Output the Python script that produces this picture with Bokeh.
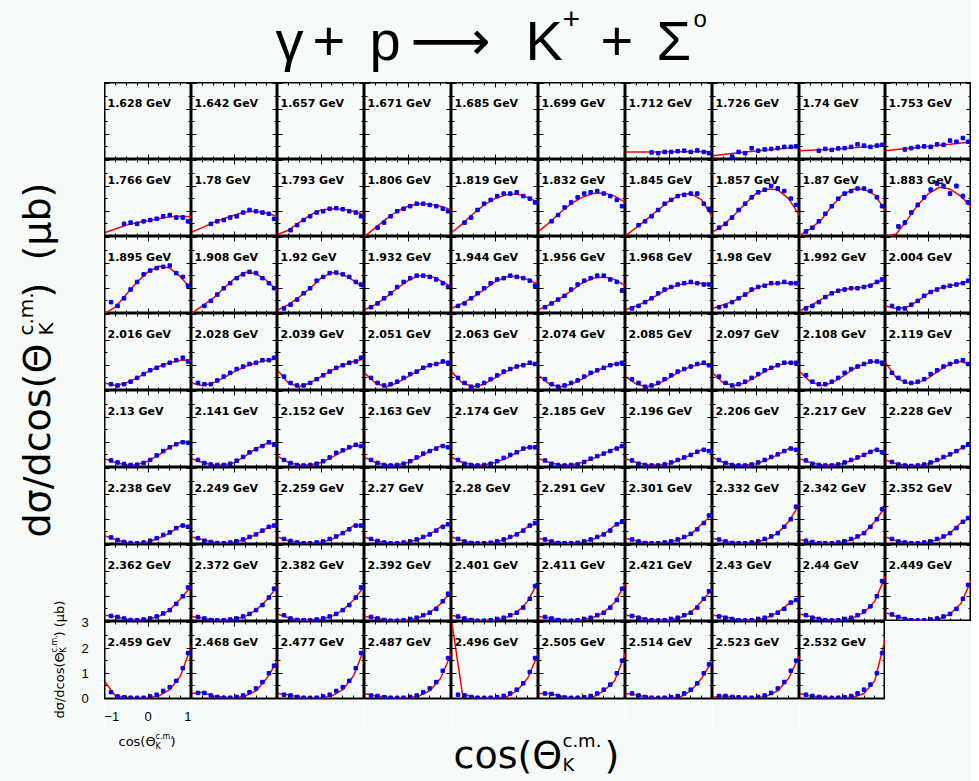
import math
from bokeh.plotting import figure
from bokeh.layouts import gridplot, column, row
from bokeh.models import LinearAxis, FixedTicker, Range1d, ColumnDataSource
from bokeh.core.properties import value
from bokeh.embed import file_html
from bokeh.resources import INLINE

# ---------------- data ----------------
ENERGY_R1 = ["1.628", "1.642", "1.657", "1.671", "1.685", "1.699", "1.712", "1.726", "1.74", "1.753"]
ENERGY_R2 = ["1.766", "1.78", "1.793", "1.806", "1.819", "1.832", "1.845", "1.857", "1.87", "1.883"]
ENERGY_R3 = ["1.895", "1.908", "1.92", "1.932", "1.944", "1.956", "1.968", "1.98", "1.992", "2.004"]
ENERGY_R4 = ["2.016", "2.028", "2.039", "2.051", "2.063", "2.074", "2.085", "2.097", "2.108", "2.119"]
ENERGY_R5 = ["2.13", "2.141", "2.152", "2.163", "2.174", "2.185", "2.196", "2.206", "2.217", "2.228"]
ENERGY_R6 = ["2.238", "2.249", "2.259", "2.27", "2.28", "2.291", "2.301", "2.332", "2.342", "2.352"]
ENERGY_R7 = ["2.362", "2.372", "2.382", "2.392", "2.401", "2.411", "2.421", "2.43", "2.44", "2.449"]
ENERGY_R8 = ["2.459", "2.468", "2.477", "2.487", "2.496", "2.505", "2.514", "2.523", "2.532"]

# fit curve sampled at these cos(theta) values
X_CURVE = [-1.0, -0.75, -0.5, -0.25, 0.0, 0.25, 0.5, 0.75, 1.0]
# measured points at these cos(theta) values
X_DATA = [-0.85, -0.7, -0.55, -0.4, -0.25, -0.1, 0.05, 0.2, 0.35, 0.5, 0.65, 0.8, 0.92]

N = None
CURVE_R1 = [N, N, N, N, N, N,
            [0.30, 0.30, 0.30, 0.30, 0.31, 0.31, 0.31, 0.31, 0.31],
            [0.15, 0.20, 0.25, 0.30, 0.34, 0.38, 0.42, 0.46, 0.50],
            [0.35, 0.37, 0.39, 0.41, 0.44, 0.47, 0.50, 0.53, 0.56],
            [0.35, 0.40, 0.44, 0.48, 0.52, 0.56, 0.60, 0.65, 0.70]]
DATA_R1 = [N, N, N, N, N, N,
           [N, N, N, 0.28, 0.25, 0.30, 0.30, 0.33, 0.35, 0.30, 0.36, 0.30, 0.25],
           [N, N, 0.12, 0.30, 0.25, 0.45, 0.35, 0.40, 0.42, 0.45, 0.50, 0.50, 0.52],
           [N, N, 0.35, 0.42, 0.38, 0.44, 0.45, 0.50, 0.60, 0.55, 0.50, 0.55, 0.58],
           [N, N, 0.40, 0.45, 0.50, 0.52, 0.50, 0.60, 0.58, 0.75, 0.70, 0.85, 0.70]]
ERR_R1 = [0, 0, 0, 0, 0, 0, 0.05, 0.08, 0.06, 0.08]

CURVE_R2 = [[0.15, 0.30, 0.45, 0.55, 0.62, 0.70, 0.78, 0.80, 0.78],
            [0.17, 0.35, 0.55, 0.70, 0.85, 0.97, 1.00, 0.92, 0.80],
            [0.08, 0.25, 0.55, 0.85, 1.05, 1.10, 1.08, 1.00, 0.85],
            [0.00, 0.35, 0.70, 1.00, 1.20, 1.30, 1.28, 1.20, 1.05],
            [0.15, 0.50, 0.90, 1.25, 1.50, 1.65, 1.68, 1.55, 1.35],
            [0.20, 0.55, 0.95, 1.30, 1.55, 1.70, 1.72, 1.60, 1.35],
            [0.04, 0.35, 0.70, 1.05, 1.40, 1.65, 1.70, 1.45, 0.77],
            [0.17, 0.45, 0.85, 1.30, 1.70, 1.88, 1.85, 1.50, 0.83],
            [0.04, 0.30, 0.65, 1.20, 1.65, 1.87, 1.88, 1.65, 1.03],
            [0.00, 0.10, 0.65, 1.25, 1.70, 1.95, 1.88, 1.60, 1.16]]
DATA_R2 = [[N, N, 0.50, 0.55, 0.50, 0.60, 0.65, 0.70, 0.80, 0.85, 0.75, 0.75, 0.60],
           [N, N, 0.50, 0.60, 0.65, 0.75, 0.80, 0.95, 1.05, 1.00, 0.95, 0.90, 0.70],
           [N, 0.25, 0.45, 0.65, 0.80, 0.95, 1.00, 1.10, 1.12, 1.08, 1.00, 0.95, 0.80],
           [N, 0.35, 0.55, 0.80, 1.00, 1.10, 1.20, 1.30, 1.30, 1.25, 1.20, 1.10, 1.00],
           [N, 0.55, 0.75, 1.05, 1.30, 1.45, 1.60, 1.70, 1.70, 1.75, 1.60, 1.50, 1.35],
           [N, 0.60, 0.85, 1.15, 1.35, 1.55, 1.70, 1.75, 1.80, 1.70, 1.60, 1.45, 1.20],
           [N, 0.45, 0.60, 0.80, 1.05, 1.30, 1.45, 1.60, 1.65, 1.70, 1.70, 1.30, 1.10],
           [0.35, 0.50, 0.75, 1.05, 1.30, 1.55, 1.75, 1.85, 2.00, 1.90, 1.80, 1.50, 1.25],
           [0.20, 0.35, 0.60, 0.90, 1.20, 1.50, 1.70, 1.80, 1.90, 1.90, 1.80, 1.55, 1.20],
           [N, 0.40, 0.55, 0.95, 1.25, 1.55, 1.85, 2.10, 2.00, 1.70, 2.00, 1.60, 1.35]]
ERR_R2 = [0.08, 0.06, 0.05, 0.05, 0.06, 0.06, 0.06, 0.08, 0.06, 0.10]

CURVE_R3 = [[0.00, 0.25, 0.75, 1.25, 1.65, 1.87, 1.80, 1.45, 0.95],
            [0.00, 0.30, 0.60, 1.00, 1.38, 1.63, 1.58, 1.30, 0.90],
            [0.13, 0.35, 0.65, 1.00, 1.40, 1.62, 1.55, 1.30, 0.99],
            [0.15, 0.35, 0.65, 1.00, 1.30, 1.50, 1.50, 1.30, 1.05],
            [0.20, 0.40, 0.65, 0.95, 1.25, 1.45, 1.48, 1.35, 1.15],
            [0.15, 0.35, 0.60, 0.90, 1.20, 1.40, 1.45, 1.35, 1.10],
            [0.15, 0.30, 0.50, 0.75, 1.00, 1.15, 1.20, 1.20, 1.15],
            [0.20, 0.35, 0.50, 0.75, 1.00, 1.15, 1.20, 1.20, 1.20],
            [0.10, 0.30, 0.55, 0.80, 0.95, 1.00, 1.05, 1.20, 1.35],
            [0.30, 0.20, 0.25, 0.50, 0.80, 1.00, 1.10, 1.20, 1.30]]
DATA_R3 = [[0.45, 0.30, 0.60, 0.95, 1.25, 1.55, 1.70, 1.80, 1.85, 1.90, 1.60, 1.45, 1.10],
           [N, 0.30, 0.50, 0.75, 1.00, 1.20, 1.40, 1.55, 1.65, 1.60, 1.40, 1.20, 1.00],
           [0.20, 0.35, 0.55, 0.80, 1.00, 1.30, 1.45, 1.60, 1.62, 1.55, 1.45, 1.25, 1.15],
           [0.25, 0.40, 0.60, 0.80, 1.05, 1.25, 1.40, 1.50, 1.50, 1.45, 1.35, 1.20, 1.05],
           [0.30, 0.40, 0.60, 0.80, 1.00, 1.20, 1.35, 1.40, 1.50, 1.45, 1.40, 1.30, 1.10],
           [0.25, 0.40, 0.55, 0.70, 0.95, 1.15, 1.30, 1.40, 1.50, 1.50, 1.35, 1.25, 0.90],
           [0.20, 0.30, 0.45, 0.60, 0.80, 0.95, 1.05, 1.15, 1.20, 1.25, 1.20, 1.15, 1.15],
           [0.25, 0.30, 0.45, 0.60, 0.75, 0.95, 1.05, 1.10, 1.20, 1.20, 1.25, 1.20, 1.20],
           [0.20, 0.30, 0.45, 0.65, 0.80, 0.90, 0.95, 1.00, 1.00, 1.05, 1.10, 1.25, 1.35],
           [0.30, 0.20, 0.20, 0.35, 0.50, 0.70, 0.85, 0.95, 1.05, 1.10, 1.15, 1.20, 1.30]]
ERR_R3 = [0.06, 0.05, 0.05, 0.05, 0.05, 0.05, 0.05, 0.05, 0.05, 0.06]

CURVE_R4 = [[0.30, 0.20, 0.30, 0.50, 0.75, 0.95, 1.10, 1.20, 1.20],
            [0.30, 0.20, 0.30, 0.50, 0.75, 0.95, 1.10, 1.20, 1.25],
            [0.80, 0.30, 0.15, 0.30, 0.55, 0.80, 1.00, 1.15, 1.25],
            [0.70, 0.30, 0.15, 0.30, 0.55, 0.80, 1.00, 1.10, 1.15],
            [0.75, 0.30, 0.15, 0.25, 0.50, 0.75, 0.95, 1.05, 1.05],
            [0.60, 0.25, 0.15, 0.25, 0.45, 0.70, 0.90, 1.05, 1.10],
            [0.55, 0.25, 0.15, 0.25, 0.50, 0.75, 0.95, 1.05, 1.00],
            [0.70, 0.30, 0.20, 0.30, 0.55, 0.80, 1.00, 1.10, 1.05],
            [0.75, 0.35, 0.20, 0.30, 0.55, 0.85, 1.05, 1.15, 1.10],
            [1.10, 0.50, 0.30, 0.30, 0.50, 0.80, 1.05, 1.15, 1.00]]
DATA_R4 = [[0.25, 0.20, 0.25, 0.35, 0.50, 0.65, 0.80, 0.90, 1.00, 1.10, 1.20, 1.30, 1.15],
           [0.30, 0.25, 0.25, 0.40, 0.55, 0.70, 0.85, 0.95, 1.05, 1.10, 1.20, 1.20, 1.30],
           [0.55, 0.30, 0.20, 0.20, 0.30, 0.45, 0.60, 0.75, 0.90, 1.00, 1.10, 1.15, 1.30],
           [0.50, 0.30, 0.20, 0.25, 0.35, 0.50, 0.65, 0.75, 0.90, 1.00, 1.05, 1.15, 1.10],
           [0.50, 0.30, 0.15, 0.20, 0.30, 0.45, 0.60, 0.75, 0.85, 0.95, 1.00, 1.10, 1.05],
           [0.45, 0.25, 0.15, 0.20, 0.30, 0.40, 0.55, 0.70, 0.80, 0.90, 1.00, 1.05, 1.10],
           [0.45, 0.30, 0.15, 0.20, 0.30, 0.45, 0.60, 0.75, 0.85, 0.95, 1.05, 1.10, 1.00],
           [0.55, 0.30, 0.20, 0.25, 0.35, 0.50, 0.65, 0.80, 0.90, 1.00, 1.10, 1.10, 1.10],
           [0.60, 0.35, 0.25, 0.25, 0.35, 0.50, 0.70, 0.85, 0.95, 1.05, 1.15, 1.15, 1.10],
           [0.70, 0.50, 0.35, 0.30, 0.35, 0.45, 0.65, 0.80, 0.95, 1.05, 1.15, 1.20, 1.05]]
ERR_R4 = [0.05, 0.05, 0.05, 0.05, 0.05, 0.05, 0.05, 0.05, 0.05, 0.05]

CURVE_R5 = [[0.35, 0.20, 0.10, 0.12, 0.25, 0.50, 0.80, 1.00, 1.00],
            [0.35, 0.20, 0.10, 0.10, 0.20, 0.45, 0.75, 0.95, 0.95],
            [0.45, 0.20, 0.10, 0.10, 0.20, 0.40, 0.65, 0.85, 0.85],
            [0.40, 0.20, 0.10, 0.10, 0.20, 0.40, 0.65, 0.85, 0.80],
            [0.40, 0.20, 0.10, 0.10, 0.20, 0.35, 0.60, 0.80, 0.80],
            [0.35, 0.20, 0.10, 0.10, 0.20, 0.35, 0.55, 0.75, 0.85],
            [0.35, 0.20, 0.10, 0.10, 0.15, 0.30, 0.50, 0.70, 0.65],
            [0.40, 0.20, 0.10, 0.10, 0.15, 0.30, 0.50, 0.75, 0.70],
            [0.35, 0.20, 0.10, 0.10, 0.15, 0.30, 0.50, 0.70, 0.60],
            [0.30, 0.15, 0.08, 0.08, 0.15, 0.30, 0.50, 0.75, 0.95]]
DATA_R5 = [[0.28, 0.20, 0.14, 0.10, 0.11, 0.18, 0.30, 0.48, 0.65, 0.80, 0.92, 1.00, 0.98],
           [0.30, 0.18, 0.12, 0.10, 0.10, 0.15, 0.27, 0.42, 0.60, 0.72, 0.85, 1.00, 0.90],
           [0.30, 0.18, 0.10, 0.08, 0.10, 0.15, 0.25, 0.40, 0.58, 0.68, 0.80, 0.90, 0.85],
           [0.30, 0.18, 0.10, 0.08, 0.10, 0.15, 0.25, 0.40, 0.55, 0.65, 0.75, 0.85, 0.80],
           [0.30, 0.15, 0.10, 0.08, 0.10, 0.15, 0.25, 0.38, 0.50, 0.60, 0.75, 0.80, 0.80],
           [0.28, 0.15, 0.10, 0.08, 0.10, 0.12, 0.22, 0.35, 0.45, 0.55, 0.65, 0.75, 0.85],
           [0.28, 0.15, 0.10, 0.08, 0.08, 0.12, 0.20, 0.30, 0.40, 0.50, 0.62, 0.70, 0.65],
           [0.30, 0.18, 0.10, 0.08, 0.08, 0.12, 0.20, 0.30, 0.42, 0.52, 0.65, 0.75, 0.70],
           [0.28, 0.15, 0.10, 0.08, 0.08, 0.12, 0.20, 0.30, 0.40, 0.50, 0.62, 0.70, 0.60],
           [0.22, 0.12, 0.08, 0.06, 0.08, 0.12, 0.20, 0.30, 0.42, 0.52, 0.65, 0.80, 0.90]]
ERR_R5 = [0.04, 0.04, 0.04, 0.04, 0.04, 0.04, 0.04, 0.04, 0.04, 0.04]

CURVE_R6 = [[0.35, 0.20, 0.08, 0.05, 0.10, 0.25, 0.45, 0.75, 0.70],
            [0.30, 0.20, 0.08, 0.05, 0.10, 0.20, 0.40, 0.65, 0.80],
            [0.30, 0.15, 0.08, 0.05, 0.10, 0.20, 0.45, 0.75, 0.75],
            [0.30, 0.15, 0.08, 0.05, 0.10, 0.20, 0.40, 0.70, 0.80],
            [0.30, 0.15, 0.05, 0.05, 0.10, 0.20, 0.40, 0.70, 0.85],
            [0.25, 0.15, 0.05, 0.05, 0.10, 0.20, 0.40, 0.75, 0.95],
            [0.25, 0.15, 0.05, 0.05, 0.10, 0.20, 0.40, 0.80, 1.20],
            [0.25, 0.15, 0.05, 0.05, 0.10, 0.20, 0.45, 0.90, 1.60],
            [0.20, 0.10, 0.05, 0.05, 0.10, 0.20, 0.45, 0.90, 1.50],
            [0.30, 0.15, 0.08, 0.05, 0.10, 0.20, 0.45, 0.85, 1.10]]
DATA_R6 = [[0.28, 0.18, 0.10, 0.06, 0.05, 0.08, 0.15, 0.25, 0.38, 0.48, 0.65, 0.75, 0.70],
           [0.25, 0.15, 0.10, 0.06, 0.05, 0.08, 0.12, 0.20, 0.30, 0.40, 0.55, 0.70, 0.75],
           [0.22, 0.14, 0.08, 0.05, 0.05, 0.08, 0.12, 0.22, 0.32, 0.45, 0.60, 0.75, 0.75],
           [0.22, 0.14, 0.08, 0.05, 0.05, 0.08, 0.12, 0.20, 0.30, 0.40, 0.55, 0.70, 0.80],
           [0.22, 0.12, 0.06, 0.05, 0.05, 0.07, 0.12, 0.20, 0.30, 0.40, 0.55, 0.75, 0.85],
           [0.20, 0.12, 0.06, 0.05, 0.05, 0.07, 0.12, 0.20, 0.30, 0.40, 0.55, 0.80, 0.90],
           [0.20, 0.12, 0.06, 0.05, 0.05, 0.08, 0.12, 0.20, 0.30, 0.42, 0.60, 0.85, 1.15],
           [0.20, 0.12, 0.06, 0.05, 0.05, 0.08, 0.12, 0.22, 0.32, 0.45, 0.70, 1.00, 1.50],
           [0.15, 0.10, 0.05, 0.05, 0.05, 0.08, 0.12, 0.22, 0.32, 0.45, 0.70, 1.00, 1.40],
           [0.22, 0.12, 0.08, 0.05, 0.05, 0.08, 0.12, 0.22, 0.32, 0.45, 0.65, 0.90, 1.05]]
ERR_R6 = [0.04, 0.04, 0.04, 0.04, 0.04, 0.04, 0.05, 0.06, 0.06, 0.05]

CURVE_R7 = [[0.25, 0.20, 0.10, 0.05, 0.10, 0.20, 0.45, 0.90, 1.40],
            [0.20, 0.15, 0.05, 0.05, 0.10, 0.20, 0.45, 0.85, 1.40],
            [0.30, 0.15, 0.05, 0.05, 0.10, 0.20, 0.45, 0.85, 1.40],
            [0.20, 0.15, 0.05, 0.02, 0.05, 0.15, 0.35, 0.70, 1.20],
            [0.25, 0.15, 0.05, 0.02, 0.05, 0.15, 0.35, 0.80, 1.60],
            [0.20, 0.15, 0.05, 0.02, 0.05, 0.15, 0.35, 0.75, 1.50],
            [0.25, 0.20, 0.08, 0.05, 0.05, 0.15, 0.35, 0.80, 1.30],
            [0.25, 0.20, 0.10, 0.05, 0.05, 0.15, 0.35, 0.70, 0.90],
            [0.30, 0.20, 0.10, 0.05, 0.05, 0.15, 0.35, 0.80, 1.80],
            [0.35, 0.20, 0.10, 0.05, 0.05, 0.10, 0.30, 0.70, 1.65]]
DATA_R7 = [[0.22, 0.18, 0.12, 0.06, 0.05, 0.08, 0.12, 0.20, 0.32, 0.45, 0.70, 1.00, 1.35],
           [0.18, 0.12, 0.06, 0.05, 0.05, 0.08, 0.12, 0.20, 0.30, 0.45, 0.65, 0.95, 1.30],
           [0.25, 0.12, 0.06, 0.05, 0.05, 0.08, 0.12, 0.20, 0.30, 0.45, 0.65, 0.95, 1.35],
           [0.18, 0.12, 0.06, 0.03, 0.03, 0.05, 0.10, 0.15, 0.25, 0.35, 0.50, 0.80, 1.10],
           [0.20, 0.12, 0.06, 0.03, 0.03, 0.05, 0.10, 0.15, 0.25, 0.35, 0.55, 0.90, 1.40],
           [0.18, 0.12, 0.06, 0.03, 0.03, 0.05, 0.10, 0.15, 0.25, 0.35, 0.55, 0.85, 1.30],
           [0.22, 0.15, 0.08, 0.05, 0.04, 0.05, 0.10, 0.15, 0.25, 0.35, 0.55, 0.90, 1.20],
           [0.20, 0.15, 0.10, 0.05, 0.04, 0.05, 0.10, 0.15, 0.25, 0.35, 0.50, 0.75, 0.85],
           [0.25, 0.15, 0.10, 0.05, 0.04, 0.05, 0.10, 0.15, 0.25, 0.40, 0.60, 1.00, 1.60],
           [0.28, 0.18, 0.10, 0.05, 0.04, 0.05, 0.08, 0.12, 0.20, 0.30, 0.50, 0.90, 1.45]]
ERR_R7 = [0.05, 0.05, 0.05, 0.05, 0.05, 0.05, 0.05, 0.06, 0.07, 0.07]

CURVE_R8 = [[0.70, 0.10, 0.05, 0.02, 0.02, 0.10, 0.35, 0.90, 2.10],
            [0.20, 0.25, 0.10, 0.05, 0.02, 0.10, 0.30, 0.80, 1.50],
            [0.20, 0.15, 0.05, 0.02, 0.02, 0.10, 0.35, 0.90, 2.00],
            [0.20, 0.10, 0.05, 0.02, 0.02, 0.10, 0.30, 0.80, 1.80],
            [3.10, 0.20, 0.05, 0.02, 0.02, 0.05, 0.30, 0.80, 1.80],
            [0.20, 0.20, 0.10, 0.02, 0.02, 0.05, 0.30, 0.70, 1.80],
            [0.20, 0.15, 0.05, 0.02, 0.02, 0.05, 0.30, 0.80, 1.50],
            [0.05, 0.10, 0.05, 0.02, 0.02, 0.10, 0.30, 0.80, 1.70],
            [0.20, 0.10, 0.05, 0.02, 0.02, 0.05, 0.20, 0.70, 2.40]]
DATA_R8 = [[0.25, 0.08, 0.05, 0.03, 0.02, 0.03, 0.08, 0.15, 0.30, 0.45, 0.70, 1.20, 1.80],
           [0.22, 0.22, 0.12, 0.06, 0.03, 0.03, 0.06, 0.12, 0.25, 0.40, 0.65, 1.00, 1.30],
           [0.15, 0.12, 0.06, 0.03, 0.02, 0.03, 0.08, 0.15, 0.30, 0.45, 0.70, 1.20, 1.80],
           [0.12, 0.10, 0.05, 0.03, 0.02, 0.03, 0.06, 0.12, 0.25, 0.40, 0.65, 1.10, 1.60],
           [0.15, 0.12, 0.06, 0.03, 0.02, 0.03, 0.05, 0.10, 0.20, 0.35, 0.60, 1.05, 1.60],
           [0.20, 0.18, 0.10, 0.04, 0.02, 0.03, 0.05, 0.10, 0.20, 0.35, 0.55, 1.00, 1.50],
           [0.20, 0.12, 0.06, 0.03, 0.02, 0.03, 0.05, 0.10, 0.20, 0.35, 0.60, 1.00, 1.35],
           [0.10, 0.10, 0.06, 0.05, 0.03, 0.03, 0.06, 0.12, 0.22, 0.40, 0.65, 1.10, 1.50],
           [0.15, 0.10, 0.06, 0.03, 0.02, 0.03, 0.05, 0.10, 0.20, 0.35, 0.55, 1.00, 1.80]]
ERR_R8 = [0.06, 0.06, 0.06, 0.06, 0.06, 0.06, 0.06, 0.06, 0.08]

X_MAJOR = [-1, 0, 1]
X_MINOR = [-0.75, -0.5, -0.25, 0.25, 0.5, 0.75]
Y_MAJOR = [0, 1, 2, 3]
Y_MINOR = [0.5, 1.5, 2.5]

# ---------------- style ----------------
BG = "#f7fbf8"
COLW = [87, 86, 87, 87, 87, 87, 87, 87, 86, 86]
ROWH = 77
TH = 82          # title strip height
BB = 29          # bottom border of last row (x tick labels)
WY = 104         # width of y-label strip (ends where the grid starts)
YAX = 78         # x inside the y strip where its tick-label axis sits
YMAX = 3.05
LABEL_Y = 2.22
FONT = "DejaVu Sans"

ENERGY_ROWS = [ENERGY_R1, ENERGY_R2, ENERGY_R3, ENERGY_R4, ENERGY_R5, ENERGY_R6, ENERGY_R7, ENERGY_R8]
CURVE_ROWS = [CURVE_R1, CURVE_R2, CURVE_R3, CURVE_R4, CURVE_R5, CURVE_R6, CURVE_R7, CURVE_R8]
DATA_ROWS = [DATA_R1, DATA_R2, DATA_R3, DATA_R4, DATA_R5, DATA_R6, DATA_R7, DATA_R8]
ERR_ROWS = [ERR_R1, ERR_R2, ERR_R3, ERR_R4, ERR_R5, ERR_R6, ERR_R7, ERR_R8]


def style_axis(ax, labels=False):
    ax.axis_line_color = None
    ax.major_tick_in = 5
    ax.major_tick_out = 0
    ax.minor_tick_in = 3
    ax.minor_tick_out = 0
    ax.major_tick_line_color = "black"
    ax.minor_tick_line_color = "black"
    ax.major_tick_line_width = 1
    ax.minor_tick_line_width = 1
    if not labels:
        ax.major_label_text_font_size = "0px"
        ax.major_label_standoff = 0
    else:
        ax.major_label_text_font = "Liberation Sans"
        ax.major_label_text_font_size = "13px"
        ax.major_label_text_color = "black"


def make_panel(r, c):
    last_row = r == 7
    p = figure(frame_width=COLW[c], frame_height=ROWH,
               x_range=Range1d(-1, 1), y_range=Range1d(0, YMAX),
               x_axis_location=None, y_axis_location=None, title=None,
               toolbar_location=None, output_backend="svg",
               min_border_left=0, min_border_right=0,
               min_border_top=0, min_border_bottom=BB if last_row else 0,
               background_fill_color=BG, border_fill_color=BG,
               outline_line_color="black", outline_line_width=2)
    p.grid.visible = False
    corner = c == 0 and last_row
    for loc in ("below", "above"):
        ax = LinearAxis(ticker=FixedTicker(ticks=X_MAJOR, minor_ticks=X_MINOR))
        lab = corner and loc == "below"
        style_axis(ax, lab)
        if lab:
            ax.major_label_standoff = 13
            ax.major_label_overrides = {-1: "\u22121", 0: "0", 1: "1"}
        p.add_layout(ax, loc)
    for loc in ("left", "right"):
        ax = LinearAxis(ticker=FixedTicker(ticks=Y_MAJOR, minor_ticks=Y_MINOR))
        style_axis(ax, False)
        p.add_layout(ax, loc)

    curve = CURVE_ROWS[r][c]
    if curve is not None:
        p.line(X_CURVE, curve, line_color="red", line_width=1.5)
    data = DATA_ROWS[r][c]
    if data is not None:
        err = ERR_ROWS[r][c]
        xs = [x for x, v in zip(X_DATA, data) if v is not None]
        vs = [v for v in data if v is not None]
        src = ColumnDataSource(dict(x=xs, y=vs,
                                    lo=[v - err for v in vs], hi=[v + err for v in vs],
                                    xl=[x - 0.035 for x in xs], xr=[x + 0.035 for x in xs]))
        p.segment(x0="x", y0="lo", x1="x", y1="hi", source=src, line_color="blue", line_width=1.3)
        p.segment(x0="xl", y0="y", x1="xr", y1="y", source=src, line_color="blue", line_width=1.3)
        p.scatter("x", "y", source=src, marker="square", size=3.5, fill_color="blue", line_color="blue")
    p.text(x=[-1], y=[LABEL_Y], text=[ENERGY_ROWS[r][c] + " GeV"], x_offset=3,
           text_baseline="middle", text_align="left", text_font=value(FONT),
           text_font_size="11px", text_font_style="bold", text_color="black")
    return p


def filler(w, h):
    f = figure(frame_width=w, frame_height=h, x_range=Range1d(0, 1), y_range=Range1d(0, 1),
               x_axis_location=None, y_axis_location=None, title=None,
               toolbar_location=None, output_backend="svg", min_border=0,
               background_fill_color=BG, border_fill_color=BG, outline_line_color=None)
    f.grid.visible = False
    return f


cells = []
for r in range(8):
    rowcells = []
    for c in range(10):
        if c < len(ENERGY_ROWS[r]):
            rowcells.append(make_panel(r, c))
        else:
            rowcells.append(filler(COLW[c], ROWH + (BB if r == 7 else 0)))
    cells.append(rowcells)

grid = gridplot(cells, toolbar_location=None)

GRID_H = 8 * ROWH + BB
TOTAL_W = WY + sum(COLW)
BOT = TH + GRID_H           # page y of the bottom of the y-label strip
XH = 781 - BOT


def blank(w, h):
    f = figure(width=w, height=h, x_range=Range1d(0, w), y_range=Range1d(0, h),
               x_axis_location=None, y_axis_location=None, title=None,
               toolbar_location=None, output_backend="svg", min_border=0,
               background_fill_color=BG, border_fill_color=BG, outline_line_color=None)
    f.grid.visible = False
    return f


def put(f, x, y, s, size, angle=0.0, font=FONT, align="left"):
    f.text(x=[x], y=[y], text=[s], angle=angle, text_align=align, text_baseline="middle",
           text_font=value(font), text_font_size=size, text_color="black")


# title strip (y measured upward from strip bottom)
title = blank(TOTAL_W, TH)
TM = 42
put(title, 275, TM, "\u03b3", "56px", font="Liberation Sans")
put(title, 312, TM, "+", "56px", font="Liberation Sans")
put(title, 369, TM, "p", "56px", font="Liberation Sans")
put(title, 410, TM, "\u27f6", "56px")
put(title, 525, TM, "K", "56px", font="Liberation Sans")
put(title, 562, TM + 22, "+", "30px", font="Liberation Sans")
put(title, 600, TM, "+", "56px", font="Liberation Sans")
put(title, 656, TM, "\u03a3", "56px", font="Liberation Sans")
put(title, 693, TM + 22, "o", "24px", font="Liberation Sans")

# y label strip; its right-hand axis shares the scale of the bottom-left panel
unit = ROWH / YMAX
ylab = figure(frame_width=YAX, frame_height=GRID_H, x_range=Range1d(0, YAX), y_range=Range1d(0, GRID_H),
              extra_y_ranges={"panel": Range1d(-BB / unit, 8 * ROWH / unit)},
              x_axis_location=None, y_axis_location=None, title=None,
              toolbar_location=None, output_backend="svg",
              min_border_left=0, min_border_top=0, min_border_bottom=0, min_border_right=WY - YAX,
              background_fill_color=BG, border_fill_color=BG, outline_line_color=None)
ylab.grid.visible = False
yax = LinearAxis(y_range_name="panel", ticker=FixedTicker(ticks=Y_MAJOR, minor_ticks=[]))
yax.axis_line_color = None
yax.major_tick_in = 0
yax.major_tick_out = 0
yax.minor_tick_in = 0
yax.minor_tick_out = 0
yax.major_label_standoff = 3
yax.major_label_text_font = "Liberation Sans"
yax.major_label_text_font_size = "13px"
yax.major_label_text_color = "black"
yax.major_label_orientation = "horizontal"
ylab.add_layout(yax, "right")

A = math.pi / 2
put(ylab, 36, BOT - 537, "d\u03c3/dcos(\u0398", "38px", A)
put(ylab, 25, BOT - 335, "c.m.", "20px", A)
put(ylab, 45, BOT - 335, "K", "20px", A)
put(ylab, 36, BOT - 297, ")", "38px", A)
put(ylab, 36, BOT - 260, "(\u03bcb)", "38px", A)
put(ylab, 59, BOT - 718, "d\u03c3/dcos(\u0398", "13px", A)
put(ylab, 54, BOT - 652, "c.m.", "8px", A)
put(ylab, 63, BOT - 652, "K", "8px", A)
put(ylab, 59, BOT - 636, ") (\u03bcb)", "13px", A)

# x label strip (y measured upward from bottom of page)
xlab = blank(TOTAL_W, XH)
put(xlab, 453, 781 - 754, "cos(\u0398", "38px")
put(xlab, 562, 781 - 740, "c.m.", "18px")
put(xlab, 562, 781 - 764, "K", "18px")
put(xlab, 604, 781 - 754, ")", "38px")
put(xlab, 118, 781 - 741, "cos(\u0398", "13px")
put(xlab, 155, 781 - 736, "c.m.", "8px")
put(xlab, 155, 781 - 746, "K", "8px")
put(xlab, 170, 781 - 741, ")", "13px")

layout = column(title, row(ylab, grid), xlab)

open("out.html", "w").write(file_html(layout, INLINE))
